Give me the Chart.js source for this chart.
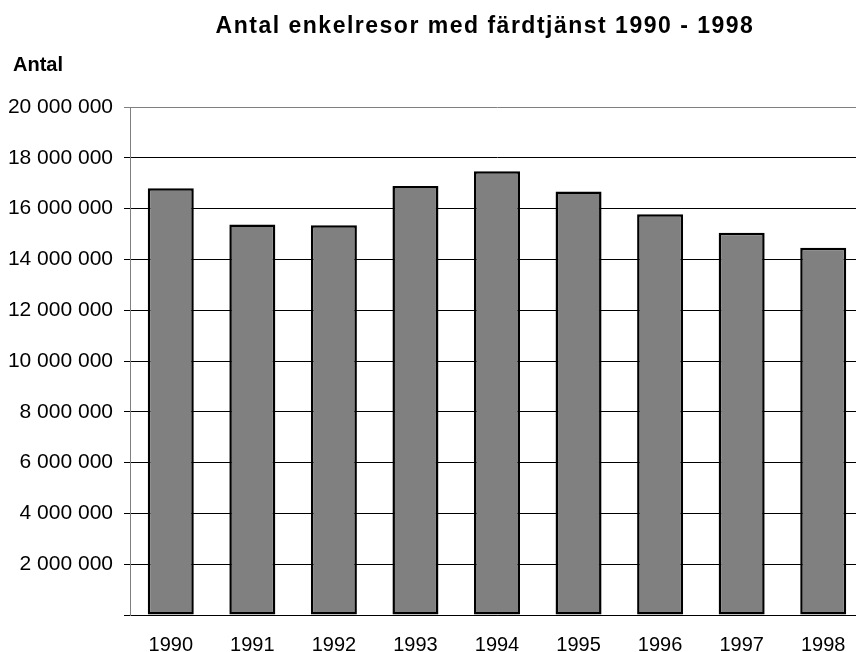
<!DOCTYPE html>
<html>
<head>
<meta charset="utf-8">
<script src="https://cdn.jsdelivr.net/npm/chart.js@4"></script>
<style>
  html, body { margin: 0; padding: 0; background: #fff; overflow: hidden; }
  #wrap { position: relative; width: 864px; height: 652px; }
</style>
</head>
<body>
<div id="wrap"><canvas id="resorChart"></canvas></div>
<script>
// years along the x axis
const years = ['1990', '1991', '1992', '1993', '1994', '1995', '1996', '1997', '1998'];
// number of single trips
const trips = [16800000, 15370000, 15340000, 16890000, 17470000, 16670000, 15780000, 15050000, 14460000];
// y axis range and step
const yMax = 20000000;
const yStep = 2000000;

const chartTitle = 'Antal enkelresor med färdtjänst 1990 - 1998';
const yTitle = 'Antal';

function formatNumber(v) {
  // swedish style: groups of three with spaces
  return String(v).replace(/\B(?=(\d{3})+(?!\d))/g, ' ');
}

// draws the title and the "Antal" label like the original
const titlePlugin = {
  id: 'titlePlugin',
  afterDraw(chart) {
    const ctx = chart.ctx;
    ctx.save();
    ctx.fillStyle = '#000';
    ctx.textBaseline = 'alphabetic';

    ctx.font = 'bold 23px "Liberation Sans", Arial, sans-serif';
    ctx.letterSpacing = '1.5px';
    ctx.textAlign = 'center';
    ctx.fillText(chartTitle, 485, 33);

    ctx.letterSpacing = '0px';
    ctx.font = 'bold 20px "Liberation Sans", Arial, sans-serif';
    ctx.textAlign = 'left';
    ctx.fillText(yTitle, 13, 71);
    ctx.restore();
  }
};

const ctx = document.getElementById('resorChart').getContext('2d');

let myChart = new Chart(ctx, {
  type: 'bar',
  data: {
    labels: years,
    datasets: [{
      label: yTitle,
      data: trips,
      backgroundColor: '#808080',
      borderColor: '#000000',
      borderWidth: 2.5,
      borderSkipped: false,
      categoryPercentage: 1.0,
      barPercentage: 0.564
    }]
  },
  options: {
    responsive: true,
    maintainAspectRatio: false,
    animation: false,
    layout: {
      padding: { top: 107, left: 0, right: 0, bottom: 0 }
    },
    plugins: {
      legend: { display: false },
      title: { display: false },
      tooltip: { enabled: false }
    },
    scales: {
      x: {
        grid: { display: true, drawOnChartArea: false, drawTicks: false },
        border: { color: '#000000', width: 1 },
        ticks: {
          color: '#000',
          padding: 18,
          font: { family: '"Liberation Sans", Arial, sans-serif', size: 20 },
          maxRotation: 0
        },
        afterFit(scale) { scale.height = 37; }
      },
      y: {
        min: 0,
        max: yMax,
        border: { color: '#808080', width: 1 },
        grid: {
          color: (c) => (c.tick && c.tick.value === yMax ? '#808080' : '#000000'),
          lineWidth: 1,
          tickLength: 6,
          drawTicks: true
        },
        ticks: {
          stepSize: yStep,
          color: '#000',
          padding: 11,
          font: { family: '"Liberation Sans", Arial, sans-serif', size: 21 },
          callback: (v) => (v === 0 ? '' : formatNumber(v))
        },
        afterFit(scale) { scale.width = 130; }
      }
    }
  },
  plugins: [titlePlugin]
});
</script>
</body>
</html>
